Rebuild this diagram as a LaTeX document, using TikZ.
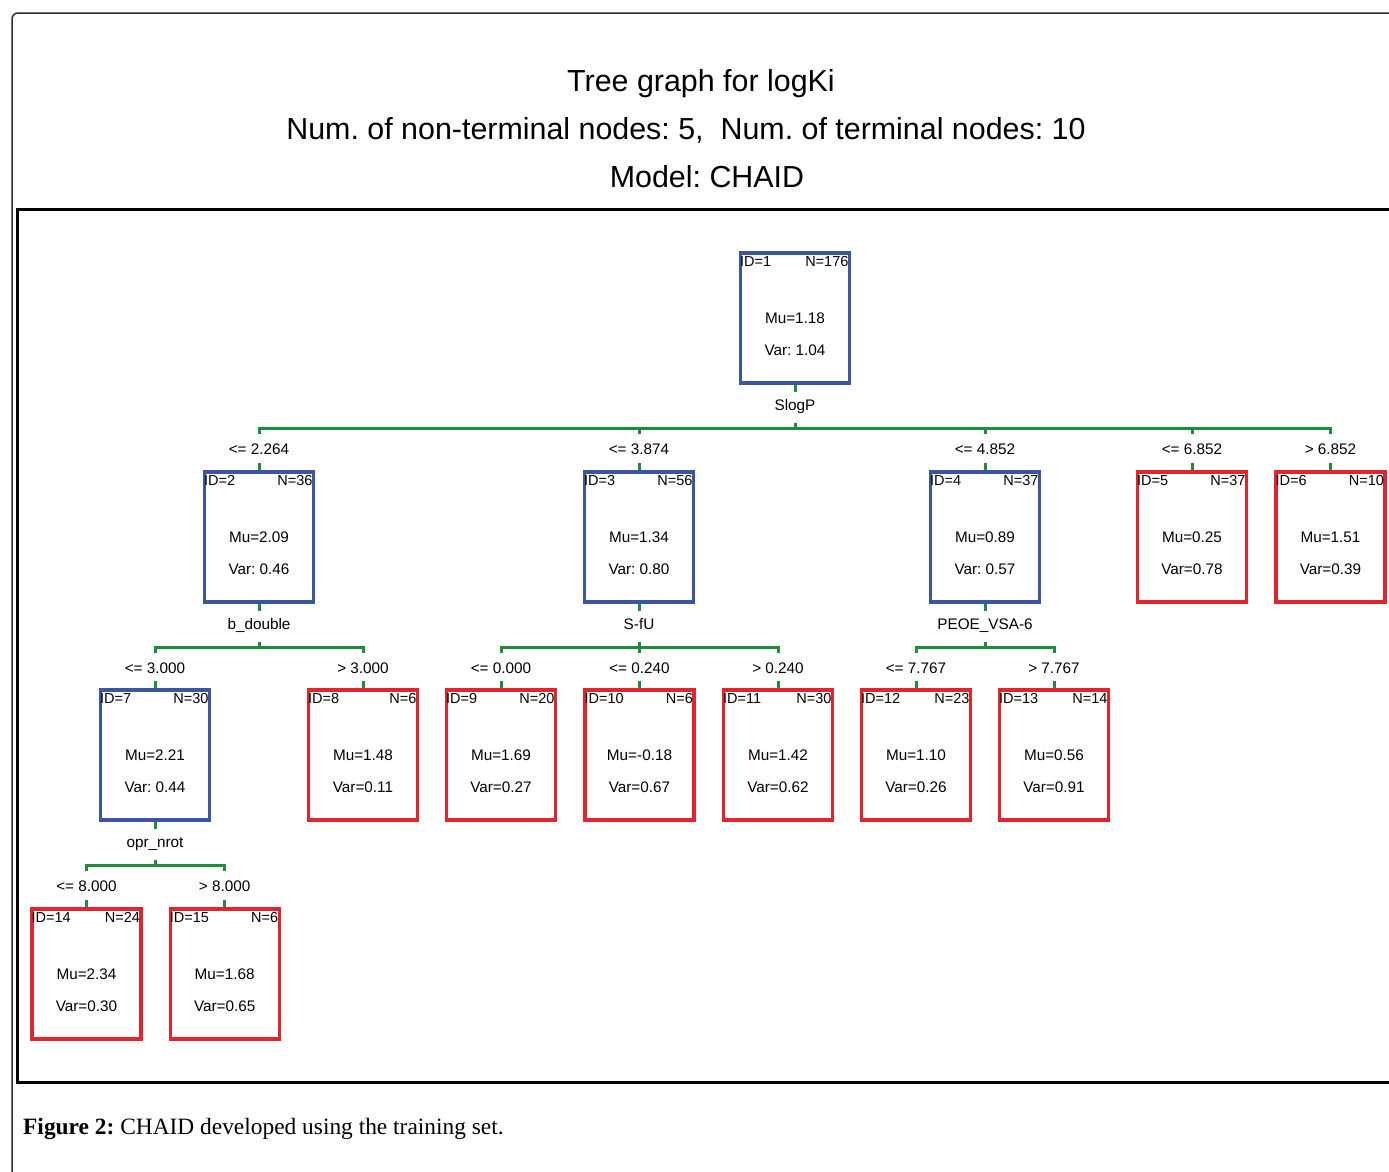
\documentclass[tikz,border=0pt]{standalone}
\usepackage{fontspec}
\setmainfont{Liberation Serif}
\setsansfont{Liberation Sans}
\usetikzlibrary{calc}
\frenchspacing
\definecolor{nodeblue}{RGB}{59,85,160}
\definecolor{nodered}{RGB}{226,37,45}
\definecolor{conngreen}{RGB}{30,140,60}
\definecolor{framegray}{RGB}{45,45,45}
\tikzset{
  tbox/.style={draw, line width=3.2pt, minimum width=109pt, minimum height=130pt, inner sep=0pt},
  innerbox/.style={tbox, draw=nodeblue},
  leafbox/.style={tbox, draw=nodered},
  idt/.style={font=\sffamily\fontsize{14.5}{14.5}\selectfont, inner sep=0pt},
  valt/.style={font=\sffamily\fontsize{15.3}{15.3}\selectfont, inner sep=0pt, anchor=base},
  titlet/.style={font=\sffamily\fontsize{30.4}{30.4}\selectfont, inner sep=0pt, anchor=base},
  conn/.style={draw=conngreen, line width=3pt},
  bar/.style={conn, line cap=rect},
}
% name, cx, cy, ID, N, Mu line, Var line, style
\newcommand\tnode[8]{%
  \node[#8] (#1) at (#2,#3) {};
  \node[idt, anchor=base west] (#1i) at ($(#1.north west)+(1,15)$) {ID=#4};
  \node[idt, anchor=base east] (#1n) at ($(#1.north east)+(-2.5,15)$) {N=#5};
  \node[valt] (#1m) at ($(#1.north)+(0,72)$) {#6};
  \node[valt] (#1v) at ($(#1.north)+(0,104.5)$) {#7};
}
% parent, label, first child, last child
\newcommand\tsplit[4]{%
  \draw[conn] (#1.south) -- ++(0,7);
  \node[valt] (#1s) at ($(#1.south)+(0,26)$) {#2};
  \coordinate (#1h) at ($(#1.south)+(0,44)$);
  \draw[conn] ($(#1.south)+(0,38)$) -- (#1h);
  \draw[bar] (#3.north |- #1h) -- (#4.north |- #1h);
}
% parent, child, label
\newcommand\tedge[3]{%
  \draw[conn] (#2.north |- #1h) -- ++(0,5);
  \path (#2.north |- #1h) ++(0,26) node[valt] (#2c) {#3};
  \draw[conn] (#2.north) -- ++(0,-7);
}
\begin{document}
\begin{tikzpicture}[x=1pt,y=-1pt]
\useasboundingbox (0,0) rectangle (1389,1171);
\fill[white] (0,0) rectangle (1389,1171);
\clip (0,0) rectangle (1389,1171);
% frames
\draw[framegray, line width=1.5pt, rounded corners=6pt] (12,1200) -- (12,13) -- (1410,13);
\draw[black, line width=3pt] (1410,209) -- (17.5,209) -- (17.5,1082) -- (1410,1082);
% titles
\node[titlet] (t1) at (701,91) {Tree graph for logKi};
\node[titlet] (t2) at (686,139) {Num. of non-terminal nodes: 5,\ \ Num. of terminal nodes: 10};
\node[titlet] (t3) at (707,187) {Model: CHAID};
% nodes
\tnode{n1}{795}{318}{1}{176}{Mu=1.18}{Var: 1.04}{innerbox}
\tnode{n2}{259}{537}{2}{36}{Mu=2.09}{Var: 0.46}{innerbox}
\tnode{n3}{639}{537}{3}{56}{Mu=1.34}{Var: 0.80}{innerbox}
\tnode{n4}{985}{537}{4}{37}{Mu=0.89}{Var: 0.57}{innerbox}
\tnode{n5}{1192}{537}{5}{37}{Mu=0.25}{Var=0.78}{leafbox}
\tnode{n6}{1330.5}{537}{6}{10}{Mu=1.51}{Var=0.39}{leafbox}
\tnode{n7}{155}{755}{7}{30}{Mu=2.21}{Var: 0.44}{innerbox}
\tnode{n8}{363}{755}{8}{6}{Mu=1.48}{Var=0.11}{leafbox}
\tnode{n9}{501}{755}{9}{20}{Mu=1.69}{Var=0.27}{leafbox}
\tnode{n10}{639.5}{755}{10}{6}{Mu=-0.18}{Var=0.67}{leafbox}
\tnode{n11}{778}{755}{11}{30}{Mu=1.42}{Var=0.62}{leafbox}
\tnode{n12}{916}{755}{12}{23}{Mu=1.10}{Var=0.26}{leafbox}
\tnode{n13}{1054}{755}{13}{14}{Mu=0.56}{Var=0.91}{leafbox}
\tnode{n14}{86.5}{974}{14}{24}{Mu=2.34}{Var=0.30}{leafbox}
\tnode{n15}{224.7}{974}{15}{6}{Mu=1.68}{Var=0.65}{leafbox}
% splits
\tsplit{n1}{SlogP}{n2}{n6}
\tedge{n1}{n2}{<= 2.264}
\tedge{n1}{n3}{<= 3.874}
\tedge{n1}{n4}{<= 4.852}
\tedge{n1}{n5}{<= 6.852}
\tedge{n1}{n6}{> 6.852}
\tsplit{n2}{b\_double}{n7}{n8}
\tedge{n2}{n7}{<= 3.000}
\tedge{n2}{n8}{> 3.000}
\tsplit{n3}{S-fU}{n9}{n11}
\tedge{n3}{n9}{<= 0.000}
\tedge{n3}{n10}{<= 0.240}
\tedge{n3}{n11}{> 0.240}
\tsplit{n4}{PEOE\_VSA-6}{n12}{n13}
\tedge{n4}{n12}{<= 7.767}
\tedge{n4}{n13}{> 7.767}
\tsplit{n7}{opr\_nrot}{n14}{n15}
\tedge{n7}{n14}{<= 8.000}
\tedge{n7}{n15}{> 8.000}
% caption
\node[anchor=base west, inner sep=0pt, font=\fontsize{23.4}{23.4}\selectfont] (cap) at (23,1134) {\textbf{Figure 2:} CHAID developed using the training set.};
\end{tikzpicture}
\end{document}
